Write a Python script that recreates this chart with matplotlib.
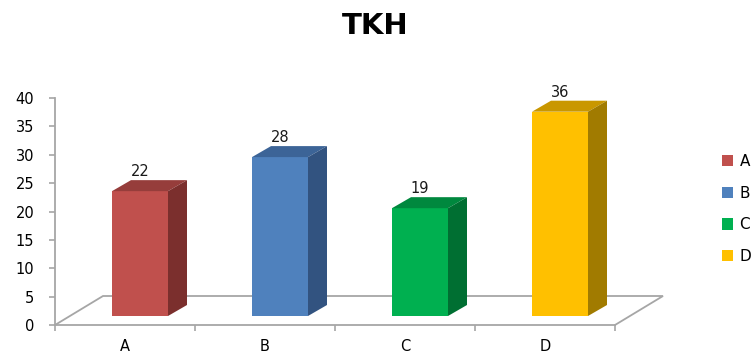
import matplotlib.pyplot as plt
from matplotlib.patches import Polygon, Patch

# chart data
categories = ["A", "B", "C", "D"]
values = [22, 28, 19, 36]
y_ticks = [0, 5, 10, 15, 20, 25, 30, 35, 40]

# face colours: front, top, side
front_colors = ["#C0504D", "#4F81BD", "#00B050", "#FFC000"]
top_colors = ["#963D3B", "#3C6497", "#00883E", "#C99700"]
side_colors = ["#7B2F2D", "#325380", "#006F32", "#A17B00"]
grey = "#A6A6A6"

fig = plt.figure(figsize=(7.53, 3.54), dpi=100)
ax = fig.add_axes([55 / 753, 29 / 354, 560 / 753, 227 / 354])
ax.set_xlim(-0.5, 3.5)
ax.set_ylim(0, 40)

# pixel -> data conversion, used for the fake 3D depth
bbox = ax.get_window_extent()
sx = bbox.width / 4.0
sy = bbox.height / 40.0


def shift(px, py):
    return px / sx, py / sy


fx, fy = shift(48, 29)   # floor depth
bx, by = shift(15, 9)    # where the bar fronts sit on the floor
dx, dy = shift(19, 11)   # bar depth
width = 0.4

# floor outline
x0, x1 = -0.5, 3.5
ax.plot([x0, x0 + fx, x1 + fx, x1], [0, fy, fy, 0], color=grey, lw=1.3,
        clip_on=False, zorder=1, solid_joinstyle="miter")

# front faces
ax.bar([i + bx for i in range(len(values))], values, width=width, bottom=by,
       color=front_colors, zorder=3)

for i, v in enumerate(values):
    left = i + bx - width / 2
    right = left + width
    top = by + v
    ax.add_patch(Polygon([(left, top), (right, top), (right + dx, top + dy), (left + dx, top + dy)],
                         closed=True, facecolor=top_colors[i], edgecolor="none", zorder=3))
    ax.add_patch(Polygon([(right, by), (right + dx, by + dy), (right + dx, top + dy), (right, top)],
                         closed=True, facecolor=side_colors[i], edgecolor="none", zorder=3))
    ax.text(i + bx, top + dy + 0.2, str(v), ha="center", va="bottom",
            fontsize=10.5, color="#1A1A1A", zorder=4)

# axes styling
for s in ["top", "right"]:
    ax.spines[s].set_visible(False)
for s in ["left", "bottom"]:
    ax.spines[s].set_color(grey)
    ax.spines[s].set_linewidth(1.3)

ax.set_yticks(y_ticks)
ax.tick_params(axis="y", direction="out", length=4, width=1.2, color=grey,
               labelsize=10.5, pad=11)
ax.set_xticks(range(len(categories)))
ax.set_xticklabels(categories)
ax.set_xticks([-0.5, 0.5, 1.5, 2.5, 3.5], minor=True)
ax.tick_params(axis="x", which="major", length=0, labelsize=10.5, pad=10)
ax.tick_params(axis="x", which="minor", direction="out", length=4, width=1.2, color=grey)

fig.text(375 / 753, 1 - 34 / 354, "TKH", ha="center", va="baseline",
         fontsize=21, fontweight="bold")

handles = [Patch(facecolor=c, edgecolor="none") for c in front_colors]
fig.legend(handles, categories, loc="center left", bbox_to_anchor=(722 / 753, 1 - 209 / 354),
           frameon=False, fontsize=11, handlelength=0.75, handleheight=0.75,
           handletextpad=0.4, labelspacing=1.1, borderpad=0, borderaxespad=0)

fig.savefig("out.png", dpi=100)
